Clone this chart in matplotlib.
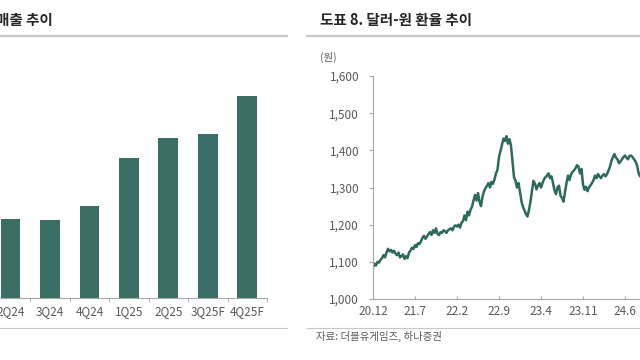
import numpy as np
import matplotlib.pyplot as plt

plt.rcParams['font.family'] = ['Noto Sans CJK KR', 'DejaVu Sans']

# left: quarterly revenue (bars)
quarters = ['2Q24', '3Q24', '4Q24', '1Q25', '2Q25', '3Q25F', '4Q25F']
revenue = [395, 390, 460, 700, 800, 820, 1010]

# right: USD/KRW, weekly readings, Dec 2020 .. Sep 2024
fx_weekly = [
    1085, 1095, 1090, 1100,   # 20.12
    1098, 1105, 1110, 1118,   # 21.1
    1112, 1125, 1135, 1128,
    1132, 1125, 1130, 1122,
    1118, 1125, 1112, 1115,
    1120, 1108, 1115, 1110,
    1125, 1130, 1138, 1135,
    1145, 1140, 1150, 1148,   # 21.7
    1155, 1165, 1170, 1162,
    1168, 1175, 1180, 1172,
    1185, 1178, 1190, 1175,
    1172, 1180, 1178, 1185,
    1182, 1178, 1185, 1188,
    1190, 1185, 1195, 1198,   # 22.1
    1195, 1200, 1192, 1205,
    1210, 1225, 1212, 1235,
    1225, 1240, 1248, 1265,
    1280, 1265, 1285, 1262,
    1250, 1275, 1290, 1298,
    1305, 1312, 1300, 1315,
    1310, 1322, 1338, 1348,
    1382, 1398, 1415, 1432,   # 22.9
    1425, 1438, 1418, 1430,
    1412, 1370, 1328, 1318,
    1300, 1312, 1288, 1262,
    1248, 1238, 1228, 1222,   # 23.1
    1240, 1262, 1292, 1318,
    1310, 1295, 1305, 1312,
    1300, 1312, 1322, 1328,
    1332, 1338, 1325, 1330,
    1312, 1292, 1282, 1300,
    1305, 1278, 1272, 1262,
    1288, 1312, 1332, 1320,
    1335, 1342, 1346, 1352,
    1360, 1356, 1338, 1350,
    1308, 1294, 1302, 1290,   # 23.11
    1300, 1306, 1312, 1320,
    1332, 1325, 1336, 1330,
    1325, 1332, 1336, 1330,
    1336, 1346, 1356, 1372,
    1382, 1390, 1380, 1376,
    1365, 1370, 1376, 1382,
    1386, 1380, 1376, 1385,   # 24.6
    1386, 1382, 1376, 1370,
    1360, 1340, 1330, 1335,
    1330, 1336, 1326, 1330,
]
fx_ticks = ['20.12', '21.7', '22.2', '22.9', '23.4', '23.11', '24.6']

green = '#3a6e64'
line_green = '#2d6a5c'
grey = '#595959'
axis_grey = '#a6a6a6'

fig = plt.figure(figsize=(6.4, 3.6), dpi=100)

def hline(y_px, x0_px, x1_px, lw, color):
    fig.add_artist(plt.Line2D([x0_px / 640, x1_px / 640], [1 - y_px / 360, 1 - y_px / 360],
                              transform=fig.transFigure, lw=lw, color=color))

# titles and rules
fig.text(-0.006, 1 - 20 / 360, '매출 추이', fontsize=10.5, fontweight='bold', color='#262626', va='center')
fig.text(320 / 640, 1 - 20 / 360, '도표 8. 달러-원 환율 추이', fontsize=10.5, fontweight='bold',
         color='#262626', va='center')
hline(35.5, 0, 287, 1.6, '#c8c8c8')
hline(35.5, 307, 640, 1.6, '#c8c8c8')
hline(327.5, 0, 287, 0.8, '#c8c8c8')
hline(327.5, 307, 640, 0.8, '#c8c8c8')
fig.text(316 / 640, 1 - 336 / 360, '자료: 더블유게임즈, 하나증권', fontsize=7.5, color=grey, va='center')

# bar chart
ax1 = fig.add_axes([-9.25 / 640, 1 - 298 / 360, 276.25 / 640, 240 / 360])
x = np.arange(len(quarters))
ax1.bar(x, revenue, width=0.5, color=green)
ax1.set_xlim(-0.5, len(quarters) - 0.5)
ax1.set_ylim(0, 1200)
ax1.set_xticks(x)
ax1.set_xticklabels(quarters, fontsize=8.5, color=grey)
ax1.set_xticks(np.arange(len(quarters) + 1) - 0.5, minor=True)
ax1.tick_params(axis='x', which='major', length=0, pad=5)
ax1.tick_params(axis='x', which='minor', length=3, color=axis_grey)
ax1.set_yticks([])
for s in ['top', 'right', 'left']:
    ax1.spines[s].set_visible(False)
ax1.spines['bottom'].set_color(axis_grey)

# exchange-rate line chart
ax2 = fig.add_axes([373 / 640, 1 - 299 / 360, 336 / 640, 223 / 360])
t = np.arange(len(fx_weekly)) / 4.0
ax2.plot(t, fx_weekly, color=line_green, lw=1.8)
ax2.set_xlim(0, 56)
ax2.set_ylim(1000, 1600)
ax2.set_yticks(np.arange(1000, 1601, 100))
ax2.set_yticklabels([f'{v:,}' for v in range(1000, 1601, 100)], fontsize=8.5, color=grey)
ax2.set_xticks([0, 7, 14, 21, 28, 35, 42])
ax2.set_xticklabels(fx_ticks, fontsize=8.5, color=grey)
ax2.tick_params(axis='y', length=3, color=axis_grey, pad=7)
ax2.tick_params(axis='x', length=2, direction='in', color=axis_grey, pad=4)
for s in ['top', 'right']:
    ax2.spines[s].set_visible(False)
ax2.spines['left'].set_color(axis_grey)
ax2.spines['bottom'].set_color(axis_grey)
fig.text(320 / 640, 1 - 57 / 360, '(원)', fontsize=7.5, color=grey, va='center')

fig.savefig('out.png', dpi=100)
